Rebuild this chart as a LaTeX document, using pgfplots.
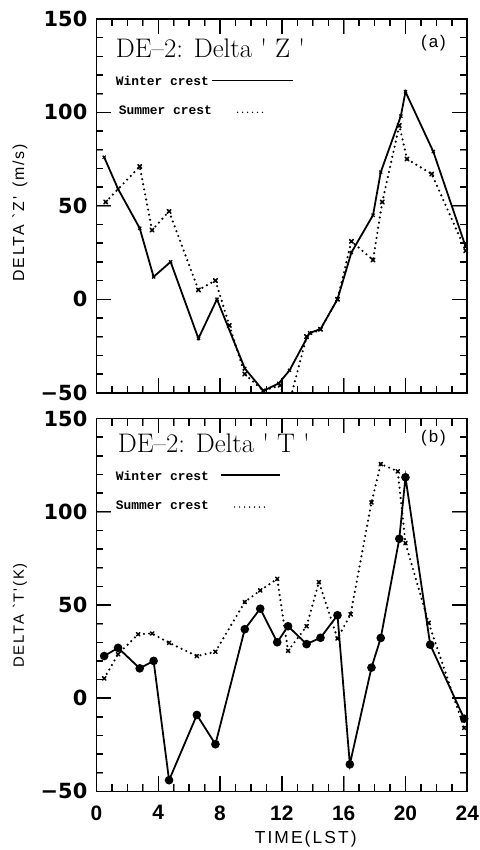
\documentclass[border=0pt]{standalone}
\usepackage{pgfplots}
\pgfplotsset{compat=1.18}
\usepackage{fontspec}
\newfontfamily\ytickfont{DejaVu Sans}
\newfontfamily\xtickfont{Liberation Sans}
\newfontfamily\labfont{Liberation Sans}[LetterSpace=12]
\newfontfamily\legfont{Liberation Mono}

\pgfplotsset{
  panel/.style={
    scale only axis, width=373pt, anchor=south west,
    xmin=0, xmax=24, ymin=-50, ymax=150,
    xtick={0,4,...,24}, minor x tick num=3,
    ytick={-50,0,50,100,150}, minor y tick num=4,
    yticklabels={−50,0,50,100,150},
    major tick length=15pt, minor tick length=7pt,
    axis line style={line width=1.7pt, solid},
    /pgf/number format/assume math mode=true,
    yticklabel style={font=\ytickfont\bfseries\fontsize{21}{21}\selectfont,
      inner sep=0pt, xshift=-9pt},
    xticklabel style={font=\xtickfont\bfseries\fontsize{21}{21}\selectfont,
      inner sep=0pt, yshift=-14pt},
  },
  winter/.style={black, solid, line width=1.8pt},
  summer/.style={black, line width=2.4pt, dash pattern=on 0pt off 5.2pt, line cap=round},
}

% inward tick marks around a panel frame: #1 = bottom edge, #2 = height (pt);
% frame runs from x = 97pt to 470pt (0 to 24 h), y from -50 to 150
\newcommand{\frameticks}[2]{%
  \foreach \k in {1,...,23}{%
    \pgfmathsetmacro\xx{97+\k*373/24}%
    \pgfmathsetmacro\len{ifthenelse(mod(\k,4)==0,15,7)}%
    \pgfmathsetmacro\yt{#1+#2}%
    \draw[line width=1.4pt, solid, line cap=butt, black] (\xx pt,#1pt) -- ++(0pt,\len pt);
    \draw[line width=1.4pt, solid, line cap=butt, black] (\xx pt,\yt pt) -- ++(0pt,-\len pt);
  }
  \foreach \k in {1,...,19}{%
    \pgfmathsetmacro\yy{#1+\k*#2/20}%
    \pgfmathsetmacro\len{ifthenelse(mod(\k,5)==0,15,7)}%
    \draw[line width=1.4pt, solid, line cap=butt, black] (97pt,\yy pt) -- ++(\len pt,0pt);
    \draw[line width=1.4pt, solid, line cap=butt, black] (470pt,\yy pt) -- ++(-\len pt,0pt);
  }
}

\begin{document}
\begin{tikzpicture}
\path (0pt,0pt) rectangle (482pt,850pt);

% ---------- (a) geopotential-height difference ----------
\begin{axis}[panel, height=376pt, at={(97pt,455pt)}, xticklabels={}]
  % summer crest (dotted)
  \addplot[summer, mark=x, mark size=2.6pt, mark options={solid, line width=1.6pt}]
    coordinates {
    (0.6,52) (2.8,71) (3.6,37) (4.7,47) (6.6,5) (7.7,10) (8.6,-14)
    (9.6,-40) (10.8,-49) (11.9,-46) (12.4,-58) (13.6,-20) (14.5,-16)
    (15.6,0) (16.5,31) (17.9,21) (18.5,52) (19.6,93) (20.1,75)
    (21.7,67) (23.9,26)};
  % winter crest (solid)
  \addplot[winter, mark=x, mark size=2.2pt, mark options={line width=1.2pt}]
    coordinates {
    (0.5,76) (1.4,59) (2.8,38) (3.7,12) (4.8,20) (6.6,-21) (7.8,0)
    (9.6,-37) (10.8,-49) (11.8,-45) (12.5,-38) (13.8,-18) (14.5,-16)
    (15.6,0) (16.5,25) (17.9,45) (18.4,68) (19.7,98) (20.0,111)
    (21.8,79) (23.9,28)};
\end{axis}

% ---------- (b) temperature difference ----------
\begin{axis}[panel, height=375pt, at={(97pt,54pt)}]
  \addplot[summer, mark=x, mark size=2.4pt, mark options={solid, line width=1.5pt}]
    coordinates {
    (0.5,10.6) (1.4,23.6) (2.7,34.3) (3.6,34.7) (4.7,29.7) (6.5,22.6)
    (7.7,24.9) (9.6,51.6) (10.6,57.8) (11.7,64) (12.4,25.4) (13.6,38.6)
    (14.4,62.3) (15.6,32) (16.45,45) (17.8,105) (18.4,125.6) (19.5,121.7)
    (20.0,83.2) (21.5,40.4) (23.8,-16)};
  \addplot[winter, mark=*, mark size=3.4pt]
    coordinates {
    (0.5,22.6) (1.4,27) (2.8,16) (3.7,20) (4.7,-44) (6.5,-9) (7.7,-24.7)
    (9.6,37) (10.6,48) (11.7,30) (12.4,38.6) (13.6,29) (14.5,32.4)
    (15.6,44.5) (16.4,-35.5) (17.8,16.4) (18.4,32.3) (19.6,85.5)
    (20.0,118.5) (21.6,28.7) (23.8,-11)};
\end{axis}

% frame ticks of both panels
\frameticks{455}{376}
\frameticks{54}{375}

% titles, panel tags and legends
\node[anchor=base west, font=\fontsize{27}{27}\selectfont] at (113pt,792.5pt)
  {DE--2: Delta \textquotesingle\ Z \textquotesingle};
\node[anchor=base west, font=\fontsize{27}{27}\selectfont] at (115pt,395pt)
  {DE--2: Delta \textquotesingle\ T \textquotesingle};
\node[anchor=base east, font=\labfont\fontsize{17}{17}\selectfont] at (452pt,802pt) {(a)};
\node[anchor=base east, font=\labfont\fontsize{17}{17}\selectfont] at (452pt,405pt) {(b)};

\node[anchor=base west, font=\legfont\bfseries\fontsize{13}{13}\selectfont] at (113pt,763.5pt) {Winter crest};
\draw[line width=1.8pt] (213pt,769pt) -- (295pt,769pt);
\node[anchor=base west, font=\legfont\bfseries\fontsize{13}{13}\selectfont] at (116pt,735pt) {Summer crest};
\draw[line width=1.6pt, dash pattern=on 0pt off 5pt, line cap=round] (239pt,737pt) -- (266pt,737pt);

\node[anchor=base west, font=\legfont\bfseries\fontsize{13}{13}\selectfont] at (113pt,367pt) {Winter crest};
\draw[line width=1.8pt] (222pt,372pt) -- (282pt,372pt);
\node[anchor=base west, font=\legfont\bfseries\fontsize{13}{13}\selectfont] at (113pt,338pt) {Summer crest};
\draw[line width=1.6pt, dash pattern=on 0pt off 5pt, line cap=round] (236pt,340pt) -- (266pt,340pt);

% axis titles
\node[rotate=90, font=\labfont\fontsize{16}{16}\selectfont] at (20pt,636pt) {DELTA `Z' \,(m/s)};
\node[rotate=90, font=\labfont\fontsize{15}{15}\selectfont] at (20pt,231pt) {DELTA `T'(K)};
\node[anchor=base, font=\labfont\fontsize{17.5}{17.5}\selectfont] at (307.5pt,2pt) {TIME(LST)};
\end{tikzpicture}
\end{document}
